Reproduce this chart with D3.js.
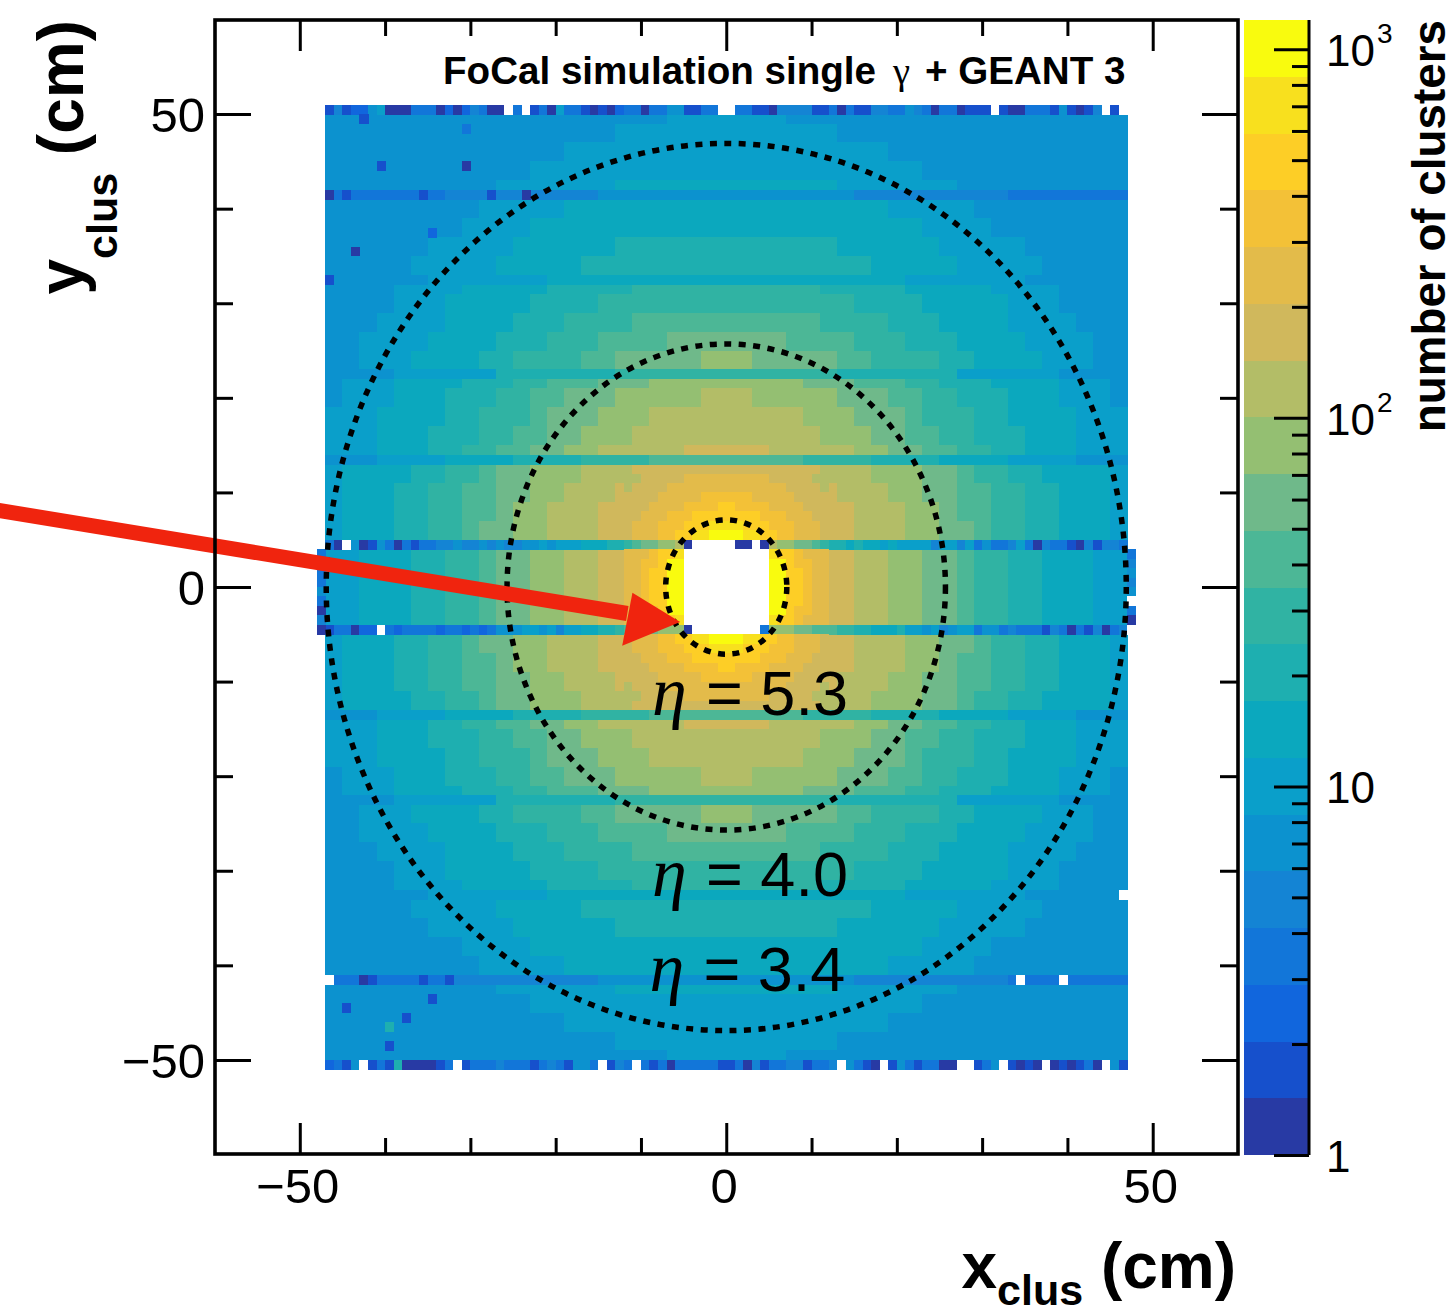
<!DOCTYPE html>
<html><head><meta charset="utf-8">
<script src="https://cdn.jsdelivr.net/npm/d3@7"></script>
<style>
html,body{margin:0;padding:0;background:#fff}
svg{display:block}
text{font-family:"Liberation Sans",Arial,sans-serif;fill:#000}
</style></head><body>
<svg id="c" width="1450" height="1309"></svg>
<script>
// All cell values are colour-band estimates (one character = one of 20 bands, base 20).
// The general field is held at 2 cm resolution, so the reference's 1 cm bin-to-bin noise is NOT reproduced there;
// only the edge rows, central rows, the core round the hole and the listed spots are read cell by cell.
const levelColors = ["#283aa4","#1650cc","#1166dd","#1276d9","#1484d4","#0c92cf","#0a9fca","#0ba8be","#1eafb0","#30b3a3",
                     "#4cb796","#6fb98a","#94bf72","#b3bd67","#d0b85c","#e3bb4a","#f3c137","#fdce26","#f8e01e","#f9fb0e"];
const maxCount = 1200;

// 2 cm blocks: rows from y=+50 down to y=-50, columns from x=-46 to x=+46 (block centres)
const fieldRows = [
"55555555555555555555 6666666 55555555555555555555",
"55555555555555555 6666666666666 55555555555555555",
"55555555555555 6666666666666666666 55555555555555",
"555555555555 66666666666666666666666 555555555555",
"5555555555 6666666 7777777777777 6666666 5555555555",
"555555555 66666 7777777777777777777 66666 555555555",
"55555555 6666 77777777777777777777777 6666 55555555",
"555555 66666 777777 8888888888888 777777 66666 555555",
"55555 66666 77777 88888888888888888 77777 66666 55555",
"5555 6666 77777 88888 99999999999 88888 77777 6666 5555",
"5555 666 77777 8888 999999999999999 8888 77777 666 5555",
"555 6666 7777 888 9999 aaaaaaaaaaa 9999 888 7777 6666 555",
"55 6666 7777 888 999 aaaa bbbbbbb aaaa 999 888 7777 6666 55",
"55 666 7777 88 9999 aa bbbbb ccc bbbbb aa 9999 88 7777 666 55",
"5 666 7777 888 99 aaa bbb ccccccccc bbb aaa 99 888 7777 666 5",
"5 666 777 888 99 aa bbb ccccc ddd ccccc bbb aa 99 888 777 666 5",
"666 7777 88 999 a bbb ccc ddddddddd ccc bbb a 999 88 7777 666",
"666 777 888 99 aa bb ccc ddddddddddd ccc bb aa 99 888 777 666",
"666 777 88 99 aa bb cc ddddd eeeee ddddd cc bb aa 99 88 777 666",
"6 7777 88 99 a bb ccc ddd eeeeeeeeeee ddd ccc bb a 99 88 7777 6",
"6 777 88 99 aa bb cc ddd eeeeeeeeeeeee ddd cc bb aa 99 88 777 6",
"6 777 88 99 aa b cc ddd eeeeeeeeeeeeeee ddd cc b aa 99 88 777 6",
"6 777 88 99 a bb cc ddd eeeeeeeeeeeeeee ddd cc bb a 99 88 777 6",
"66 777 88 99 a bb cc dd eeeeeeeeeeeeeee dd cc bb a 99 88 777 66",
"66 777 88 99 a bb cc dd eeeeeeeeeeeeeee dd cc bb a 99 88 777 66",
"66 777 88 99 a bb cc dd eeeeeeeeeeeeeee dd cc bb a 99 88 777 66",
"66 777 88 99 a bb cc dd eeeeeeeeeeeeeee dd cc bb a 99 88 777 66",
"66 777 88 99 a bb cc dd eeeeeeeeeeeeeee dd cc bb a 99 88 777 66",
"6 777 88 99 a bb cc ddd eeeeeeeeeeeeeee ddd cc bb a 99 88 777 6",
"6 777 88 99 aa b cc ddd eeeeeeeeeeeeeee ddd cc b aa 99 88 777 6",
"6 777 88 99 aa bb cc ddd eeeeeeeeeeeee ddd cc bb aa 99 88 777 6",
"6 7777 88 99 a bb ccc ddd eeeeeeeeeee ddd ccc bb a 99 88 7777 6",
"666 777 88 99 aa bb cc ddddd eeeee ddddd cc bb aa 99 88 777 666",
"666 777 888 99 aa bb ccc ddddddddddd ccc bb aa 99 888 777 666",
"666 7777 88 999 a bbb ccc ddddddddd ccc bbb a 999 88 7777 666",
"5 666 777 888 99 aa bbb ccccc ddd ccccc bbb aa 99 888 777 666 5",
"5 666 7777 888 99 aaa bbb ccccccccc bbb aaa 99 888 7777 666 5",
"55 666 7777 88 9999 aa bbbbb ccc bbbbb aa 9999 88 7777 666 55",
"55 6666 7777 888 999 aaaa bbbbbbb aaaa 999 888 7777 6666 55",
"555 6666 7777 888 9999 aaaaaaaaaaa 9999 888 7777 6666 555",
"5555 666 77777 8888 999999999999999 8888 77777 666 5555",
"5555 6666 77777 88888 99999999999 88888 77777 6666 5555",
"55555 66666 77777 88888888888888888 77777 66666 55555",
"555555 66666 777777 8888888888888 777777 66666 555555",
"55555555 6666 77777777777777777777777 6666 55555555",
"555555555 66666 7777777777777777777 66666 555555555",
"5555555555 6666666 7777777777777 6666666 5555555555",
"555555555555 66666666666666666666666 555555555555",
"55555555555555 6666666666666666666 55555555555555",
"55555555555555555 6666666666666 55555555555555555",
"55555555555555555555 6666666 55555555555555555555"
];

// module-gap rows, 1 cm high, 2 cm columns; gapLower = lower edge of the row in cm
const gapLower = [41, 32, 22, 13, -14, -23, -33, -42];
const gapRows = [
"3333333 444444444 555555555555555 444444444 3333333",
"555555 6666666 777777777777777777777 6666666 555555",
"5555 666666 8888888 9999999999999 8888888 666666 5555",
"555 6666 7777 8888 9999 aaaa aaaaa 9999 8888 7777 6666 555",
"555 6666 7777 8888 9999 aaaa aaaaa 9999 8888 7777 6666 555",
"5555 666666 8888888 9999999999999 8888888 666666 5555",
"555555 6666666 777777777777777777777 6666666 555555",
"3333333 444444444 555555555555555 444444444 3333333"
];

// 1 cm rows, x from -47 to +46; '.' = empty bin
const topEdge    = "1412256000 3330202430 0.3.130633 1010233033 551133..33 1104444113 0311443354 3033011 1.1 0033315101 4.1.";
const bottomEdge = "2315.1318 0 0001 3.1333 4333134315 53.143.313 0333331130 4133441334 .53 10.1531 3300..135. 1010.01013 0.51";
const stripUpper = "30.5015303 1334454454 5445565666 77788 aaaaaaaaaaaaaaaaaaaaaaaa 88787 76766 6 646646353346304 331041443";
const stripLower = "1330 22.323 3332332323 5556656466 77889 aaaaaaaaaaaaaaaaaaaaaaaa a9988 77786 6 564566355343331 430314034";
const stripLowerEdge = [4, -5];

// the bins just outside |x|=47, from y=4 to y=-5
const leftExtension  = "333353040";
const rightExtension = "34545.30.";

// 1 cm bins round the hole, y from +12 down to -12, x from -12 to +12
const coreRows = [
"ddeeeeefffff fffffeeeeedd",
"deeeefffffff fffffffeeeed",
"eeeefffffggg gggfffffeeee",
"eeeffffggggh hggggffffeee",
"eefffggghhhh hhhhgggfffee",
"efffggghhhii iihhhgggfffe",
"efffgghhiijj jjiihhggfffe",
"9abbccd0.... .00.0dccbba9",
"fffghhi..... .....ihhgfff",
"ffgghjj..... .....jjhggff",
"ffghhjj..... .....jjhhgff",
"ffghhjj..... .....jjhhgff",
"ffghhjj..... .....jjhhgff",
"ffghhjj..... .....jjhhgff",
"ffgghjj..... .....jjhggff",
"fffghhi..... .....ihhgfff",
"aabbccc0.... ....3cccbbaa",
"efffgghhiijj jjiihhggfffe",
"efffggghhhii iihhhgggfffe",
"eefffggghhhh hhhhgggfffee",
"eeeffffggggh hggggffffeee",
"eeeefffffggg gggfffffeeee",
"deeeefffffff fffffffeeeed",
"ddeeeeefffff fffffeeeeedd"
];

// single bins that stand out in the reference: [x left edge, y lower edge, band]; band '.' = empty
const spotBins = [
[-43,49,1],[-41,44,1],[-31,44,0],[-47,41,0],[-45,41,1],[-36,41,1],[-28,41,1],[-24,41,0],[-31,48,3],[-44,35,0],[-35,37,2],[-47,32,1],
[-47,-42,"."],[-43,-42,0],[-42,-42,1],[-36,-42,1],[-33,-42,1],[-35,-44,1],[-45,-45,1],[-38,-46,1],[-40,-49,1],[-40,-47,8],
[34,-42,"."],[39,-42,"."],[46,-33,"."]
];

const etaRadius = [7.1, 25.7, 46.9];
const etaLabels = [["5.3",-8.7,-13.5],["4.0",-8.7,-32.7],["3.4",-9.0,-42.7]];
const majorTicks = [-50,0,50];
const minorTicks = [-40,-30,-20,-10,10,20,30,40];
const barMajor = [1,10,100,1000];
const barMinor = [2,3,4,5,6,7,8,9,20,30,40,50,60,70,80,90,200,300,400,500,600,700,800,900];
const arrowTail = [-85.3, 8.1], arrowNeck = [-11.6, -2.8], arrowTip = [-5.4, -3.7];
const arrowBarbs = [[-11.0,-0.6],[-12.2,-6.2]];

const svg = d3.select("#c");
const x = d3.scaleLinear().domain([-60,60]).range([214.5,1238]);
const y = d3.scaleLinear().domain([-60,60]).range([1154.5,19.5]);
const logMax = Math.log10(maxCount);
const color = d3.scaleQuantize().domain([0,logMax]).range(levelColors);
const countOfBand = b => Math.pow(10,(b+0.5)*logMax/levelColors.length);
const clean = s => s.replace(/ /g,"");
const fillOf = ch => ch === "." ? "#fff" : color(Math.log10(countOfBand(parseInt(ch,20))));

const cells = [];
const add = (x0,y0,w,h,ch) => cells.push({x0,y0,w,h,ch:String(ch)});
fieldRows.forEach((r,j)=>{ [...clean(r)].forEach((ch,i)=> add(-47+2*i, 49-2*j, 2, 2, ch)); });
gapRows.forEach((r,j)=>{ [...clean(r)].forEach((ch,i)=> add(-47+2*i, gapLower[j], 2, 1, ch)); });
[[topEdge,50],[bottomEdge,-51],[stripUpper,stripLowerEdge[0]],[stripLower,stripLowerEdge[1]]].forEach(([r,yy])=>{
  [...clean(r)].forEach((ch,i)=> add(-47+i, yy, 1, 1, ch));
});
[...leftExtension].forEach((ch,i)=> add(-48, 3-i, 1, 1, ch));
[...rightExtension].forEach((ch,i)=> add(47, 3-i, 1, 1, ch));
spotBins.forEach(([a,b,c])=> add(a,b,1,1,c));
coreRows.forEach((r,j)=>{ [...clean(r)].forEach((ch,i)=> add(-12+i, 11-j, 1, 1, ch)); });

svg.append("g").attr("shape-rendering","crispEdges").selectAll("rect").data(cells).join("rect")
  .attr("x",d=>x(d.x0)).attr("y",d=>y(d.y0+d.h))
  .attr("width",d=>x(d.x0+d.w)-x(d.x0)+0.5).attr("height",d=>y(d.y0)-y(d.y0+d.h)+0.5)
  .attr("fill",d=>fillOf(d.ch));

// dotted eta circles
svg.append("g").selectAll("ellipse").data(etaRadius).join("ellipse")
  .attr("cx",x(0)).attr("cy",y(0))
  .attr("rx",d=>x(d)-x(0)).attr("ry",d=>y(0)-y(d))
  .attr("fill","none").attr("stroke","#000").attr("stroke-width",5.5).attr("stroke-dasharray","7 7.5");

// eta labels
const lab = svg.append("g").selectAll("g").data(etaLabels).join("g")
  .attr("transform",d=>`translate(${x(d[1])},${y(d[2])})`);
lab.append("text").attr("font-size",70).style("font-family","'Liberation Serif',serif").style("font-style","italic").text("η");
lab.append("text").attr("x",54).attr("font-size",63).text(d=>"= "+d[0]);

// arrow
const pt = p => [x(p[0]),y(p[1])];
svg.append("path").attr("d",d3.line()([pt(arrowTail),pt(arrowNeck)])).attr("stroke","#f0240e").attr("stroke-width",15).attr("fill","none");
svg.append("path").attr("d",d3.line()([pt(arrowBarbs[0]),pt(arrowTip),pt(arrowBarbs[1])])+"Z").attr("fill","#f0240e");

// frame
svg.append("rect").attr("x",215).attr("y",20).attr("width",1023).attr("height",1134)
  .attr("fill","none").attr("stroke","#000").attr("stroke-width",3.6);

function ticks(gen,vals,size,tx,ty){
  const g = svg.append("g").attr("transform",`translate(${tx},${ty})`).call(gen.tickValues(vals).tickSize(size).tickFormat(""));
  g.select(".domain").remove();
  g.selectAll("line").attr("stroke","#000").attr("stroke-width",3);
  return g;
}
ticks(d3.axisBottom(x),majorTicks,-31,0,1154);
ticks(d3.axisBottom(x),minorTicks,-16,0,1154);
ticks(d3.axisTop(x),majorTicks,-31,0,20);
ticks(d3.axisTop(x),minorTicks,-16,0,20);
ticks(d3.axisLeft(y),majorTicks,-36,215,0);
ticks(d3.axisLeft(y),minorTicks,-18,215,0);
ticks(d3.axisRight(y),majorTicks,-36,1238,0);
ticks(d3.axisRight(y),minorTicks,-18,1238,0);

const fmt = v => v < 0 ? "\u2212"+Math.abs(v) : String(v);
svg.append("g").selectAll("text").data(majorTicks).join("text")
  .attr("x",d=>x(d)-2).attr("y",1203).attr("text-anchor","middle").attr("font-size",49).text(fmt);
svg.append("g").selectAll("text").data(majorTicks).join("text")
  .attr("x",205).attr("y",d=>y(d)+18).attr("text-anchor","end").attr("font-size",49).text(fmt);

// axis titles
const xt = svg.append("text").attr("x",1236).attr("y",1288).attr("text-anchor","end").attr("font-weight","bold").attr("font-size",64);
xt.append("tspan").text("x");
xt.append("tspan").attr("font-size",43).attr("dy",17).text("clus");
xt.append("tspan").attr("dy",-17).text(" (cm)");
const yt = svg.append("text").attr("transform","translate(83,20) rotate(-90)").attr("text-anchor","end").attr("font-weight","bold").attr("font-size",64);
yt.append("tspan").text("y");
yt.append("tspan").attr("font-size",43).attr("dy",34).text("clus");
yt.append("tspan").attr("dy",-34).text(" (cm)");

// top label
const tl = svg.append("text").attr("y",84).attr("font-weight","bold").attr("font-size",38.6);
tl.append("tspan").attr("x",443).text("FoCal simulation single");
tl.append("tspan").attr("x",893).style("font-family","'Liberation Serif',serif").attr("font-weight","normal").text("γ");
tl.append("tspan").attr("x",925).text("+ GEANT 3");

// colour bar
const bar = d3.scaleLog().domain([1,maxCount]).range([1155,20]);
svg.append("g").attr("shape-rendering","crispEdges").selectAll("rect").data(levelColors).join("rect")
  .attr("x",1244).attr("width",65)
  .attr("y",c=>bar(Math.pow(10,color.invertExtent(c)[1])))
  .attr("height",c=>bar(Math.pow(10,color.invertExtent(c)[0]))-bar(Math.pow(10,color.invertExtent(c)[1])))
  .attr("fill",c=>c);
svg.append("line").attr("x1",1309).attr("x2",1309).attr("y1",20).attr("y2",1155).attr("stroke","#000").attr("stroke-width",3);
ticks(d3.axisLeft(bar),barMajor,35,1309,0);
ticks(d3.axisLeft(bar),barMinor,17,1309,0);
const barLab = svg.append("g").selectAll("text").data(barMajor).join("text")
  .attr("x",1326).attr("y",d=>bar(d)+17).attr("font-size",44);
barLab.append("tspan").text(d=>d===1?"1":"10");
barLab.filter(d=>d>=100).append("tspan").attr("font-size",28).attr("dy",-23).attr("dx",2).text(d=>Math.log10(d));
svg.append("text").attr("transform","translate(1445,20) rotate(-90)").attr("text-anchor","end")
  .attr("font-weight","bold").attr("font-size",45.8).text("number of clusters");
</script>
</body></html>
